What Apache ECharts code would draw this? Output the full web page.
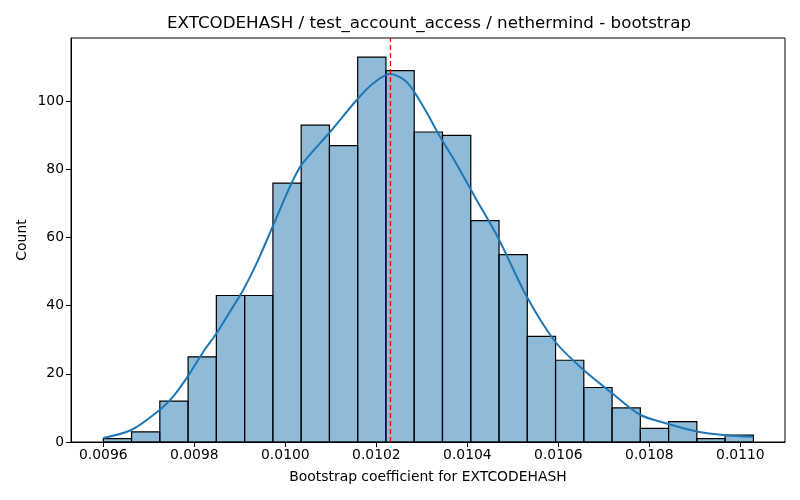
<!DOCTYPE html>
<html>
<head>
<meta charset="utf-8">
<script src="https://cdn.jsdelivr.net/npm/echarts@6/dist/echarts.min.js"></script>
<style>html,body{margin:0;padding:0;background:#fff}#c{width:800px;height:500px}</style>
</head>
<body>
<div id="c"></div>
<script>
var titleText = "EXTCODEHASH / test_account_access / nethermind - bootstrap";
var xLabel = "Bootstrap coefficient for EXTCODEHASH";
var yLabel = "Count";
var binEdges = [0.0096000,0.0096621,0.0097242,0.0097863,0.0098484,0.0099106,0.0099727,0.0100348,0.0100969,0.0101590,0.0102211,0.0102832,0.0103453,0.0104075,0.0104696,0.0105317,0.0105938,0.0106559,0.0107180,0.0107801,0.0108422,0.0109043,0.0109665,0.0110286];
var counts = [1,3,12,25,43,43,76,93,87,113,109,91,90,65,55,31,24,16,10,4,6,1,2];
var kdeX = [0.0096000,0.0096624,0.0097246,0.0097538,0.0097868,0.0098198,0.0098492,0.0098785,0.0099077,0.0099371,0.0099730,0.0100103,0.0100352,0.0100982,0.0101569,0.0101934,0.0102301,0.0102668,0.0103033,0.0103400,0.0103767,0.0104207,0.0104681,0.0105305,0.0105927,0.0106549,0.0107174,0.0107796,0.0108418,0.0109042,0.0109664,0.0110286];
var kdeY = [1.2,3.6,9.5,13.4,19.5,26.5,32,38.3,44.7,52.5,63.5,75,81.3,91,100.4,105.3,108,105.7,98.4,89.6,81.5,71,59.8,42.7,29.5,21.2,14.4,8,5.3,3.1,2,1.5];
var meanValue = 0.010231;
var xTicks = [0.0096,0.0098,0.0100,0.0102,0.0104,0.0106,0.0108,0.0110];
var yTicks = [0,20,40,60,80,100];
var xMin = 0.009529, xMax = 0.011098, yMax = 118.6;

var histData = counts.map(function(c,i){return [binEdges[i], binEdges[i+1], c];});
var kdeData = kdeX.map(function(x,i){return [x, kdeY[i]];});

var chart = echarts.init(document.getElementById('c'));
var font = 'DejaVu Sans';
chart.setOption({
  animation:false,
  backgroundColor:'#fff',
  graphic:[
    {type:'text',left:428-261,top:15,style:{text:titleText,fontFamily:font,fontSize:16.7,fill:'#000'}},
    {type:'text',x:22,y:240,rotation:Math.PI/2,style:{text:yLabel,fontFamily:font,fontSize:13.9,fill:'#000',align:'center',verticalAlign:'middle'}}
  ],
  grid:{left:71,right:15,top:38,bottom:58,show:true,borderColor:'#000',borderWidth:1,backgroundColor:'transparent'},
  xAxis:{type:'value',min:xMin,max:xMax,
    name:xLabel,nameLocation:'middle',nameGap:28,nameTextStyle:{fontFamily:font,fontSize:13.9,color:'#000'},
    axisLine:{show:true,lineStyle:{color:'#000',width:1}},
    axisTick:{show:true,inside:false,length:5,customValues:xTicks,lineStyle:{color:'#000'}},
    axisLabel:{customValues:xTicks,fontFamily:font,fontSize:13.9,color:'#000',margin:6,formatter:function(v){return v.toFixed(4);}},
    splitLine:{show:false}},
  yAxis:{type:'value',min:0,max:yMax,
    axisLine:{show:true,lineStyle:{color:'#000',width:1}},
    axisTick:{show:true,inside:false,length:5,customValues:yTicks,lineStyle:{color:'#000'}},
    axisLabel:{customValues:yTicks,fontFamily:font,fontSize:13.9,color:'#000',margin:7},
    splitLine:{show:false}},
  series:[
    {type:'custom',data:histData,encode:{x:[0,1],y:2},
     renderItem:function(params,api){
       var p0=api.coord([api.value(0),api.value(2)]);
       var p1=api.coord([api.value(1),0]);
       return {type:'rect',shape:{x:p0[0],y:p0[1],width:p1[0]-p0[0],height:p1[1]-p0[1]},
         style:{fill:'rgba(31,119,180,0.5)',stroke:'#000',lineWidth:1.2}};
     },z:2},
    {type:'line',data:kdeData,smooth:0.3,showSymbol:false,symbol:'none',
     lineStyle:{color:'#1f77b4',width:2},z:3},
    {type:'line',data:[[meanValue,0],[meanValue,yMax]],showSymbol:false,symbol:'none',
     lineStyle:{color:'#ff0000',type:[5,3],width:1.3},z:4}
  ]
});
</script>
</body>
</html>
